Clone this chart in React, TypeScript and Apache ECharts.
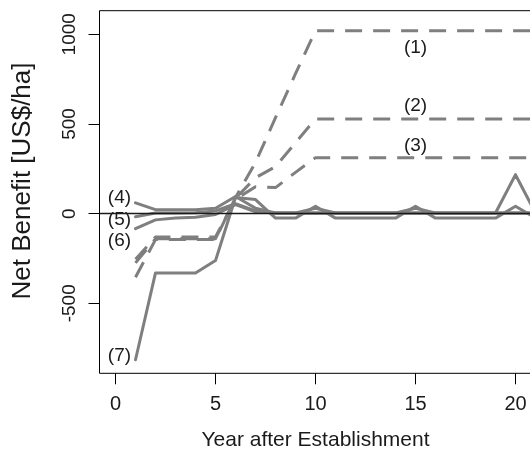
import React, { useEffect, useRef } from "react";
import * as echarts from "echarts";

// Year after establishment
const years = [1, 2, 3, 4, 5, 6, 7, 8, 9, 10, 11, 12, 13, 14, 15, 16, 17, 18, 19, 20, 21];

// Net benefit [US$/ha] — dashed scenarios
const s1 = [-355, -145, -145, -145, -145, 90, 285, 535, 780, 1020, 1020, 1020, 1020, 1020, 1020, 1020, 1020, 1020, 1020, 1020, 1020];
const s2 = [-275, -140, -140, -140, -140, 85, 200, 262, 395, 528, 528, 528, 528, 528, 528, 528, 528, 528, 528, 528, 528];
const s3 = [-255, -130, -130, -130, -130, 80, 150, 145, 230, 312, 312, 312, 312, 312, 312, 312, 312, 312, 312, 312, 312];
// solid scenarios
const s4 = [60, 22, 22, 22, 30, 95, 30, 3, 3, 30, 3, 3, 3, 3, 30, 3, 3, 3, 3, 217, 3];
const s5 = [-18, 3, 3, 5, 15, 55, 15, 3, 3, 3, 3, 3, 3, 3, 3, 3, 3, 3, 3, 3, 3];
const s6 = [-84, -35, -25, -20, -5, 50, 10, 3, 3, 3, 3, 3, 3, 3, 3, 3, 3, 3, 3, 3, 3];
const s7 = [-815, -331, -331, -331, -262, 90, 78, -25, -25, 41, -25, -25, -25, -25, 41, -25, -25, -25, -25, 41, -25];

const xTicks = [0, 5, 10, 15, 20];
const yTicks = [-500, 0, 500, 1000];

// curve labels: text, x (year), y (US$/ha), alignment
const labelTexts = ["(1)", "(2)", "(3)", "(4)", "(5)", "(6)", "(7)"];
const labelX = [15, 15, 15, 0.78, 0.78, 0.78, 0.78];
const labelY = [929, 606, 383, 94, -26, -147, -788];
const labelAlign = ["center", "center", "center", "right", "right", "right", "right"];

const GRAY = "#7f7f7f";
const TEXT = "#1a1a1a";
const FONT = "'Liberation Sans', Arial, Helvetica, sans-serif";

export default function App() {
  const ref = useRef<HTMLDivElement>(null);
  useEffect(() => {
    document.body.style.margin = "0";
    document.body.style.overflow = "hidden";
    const chart = echarts.init(ref.current!, null, { renderer: "svg" });
    const mk = (arr: number[]) => years.map((y, i) => [y, arr[i]]);
    const dashed = { color: GRAY, width: 3, type: [17, 11] as any, cap: "butt" as const, join: "round" as const };
    const solid = { color: GRAY, width: 3, type: "solid" as const, cap: "round" as const, join: "round" as const };
    const lineSeries = (name: string, arr: number[], style: any, extra: any = {}) => ({
      name,
      type: "line",
      data: mk(arr),
      showSymbol: false,
      symbol: "none",
      lineStyle: style,
      silent: true,
      ...extra,
    });
    chart.setOption({
      animation: false,
      textStyle: { fontFamily: FONT },
      grid: {
        left: 99.5,
        top: 10.7,
        width: 432,
        height: 362.6,
        containLabel: false,
        outerBoundsMode: "none",
        show: true,
        borderColor: "#000",
        borderWidth: 1,
        backgroundColor: "transparent",
      },
      xAxis: {
        type: "value",
        min: -0.8,
        max: 20.8,
        name: "Year after Establishment",
        nameLocation: "middle",
        nameGap: 55,
        nameTextStyle: { fontSize: 21, color: TEXT, fontFamily: FONT },
        axisLine: { show: false, onZero: false },
        splitLine: { show: false },
        axisTick: { show: true, length: 11, customValues: xTicks, lineStyle: { color: "#000", width: 1 } },
        axisLabel: {
          show: true,
          customValues: xTicks,
          fontSize: 20,
          color: TEXT,
          margin: 20,
          fontFamily: FONT,
          formatter: (v: number) => String(v),
        },
      },
      yAxis: {
        type: "value",
        min: -890.5,
        max: 1131.4,
        axisLine: { show: false, onZero: false },
        splitLine: { show: false },
        axisTick: { show: true, length: 11, customValues: yTicks, lineStyle: { color: "#000", width: 1 } },
        axisLabel: {
          show: true,
          customValues: yTicks,
          rotate: 90,
          fontSize: 19,
          color: TEXT,
          margin: 22,
          fontFamily: FONT,
          formatter: (v: number) => String(v),
        },
      },
      series: [
        lineSeries("(1)", s1, dashed),
        lineSeries("(2)", s2, dashed),
        lineSeries("(3)", s3, dashed),
        lineSeries("(4)", s4, solid),
        lineSeries("(5)", s5, solid),
        lineSeries("(6)", s6, solid),
        lineSeries("(7)", s7, solid, {
          markLine: {
            silent: true,
            symbol: "none",
            label: { show: false },
            lineStyle: { color: "#1a1a1a", width: 1.4, type: "solid" },
            data: [{ yAxis: 0 }],
          },
        }),
      ],
    });

    // curve labels placed through the chart's own scales
    const labelEls = labelTexts.map((t, i) => {
      const p = chart.convertToPixel({ gridIndex: 0 }, [labelX[i], labelY[i]]) as number[];
      return {
        type: "text",
        x: p[0],
        y: p[1],
        silent: true,
        style: {
          text: t,
          fill: TEXT,
          fontSize: 19,
          fontFamily: FONT,
          align: labelAlign[i],
          verticalAlign: "middle",
        },
      };
    });
    chart.setOption({
      graphic: [
        ...labelEls,
        {
          type: "text",
          x: 21,
          y: 181,
          rotation: Math.PI / 2,
          silent: true,
          style: {
            text: "Net Benefit [US$/ha]",
            fill: TEXT,
            fontSize: 26,
            fontFamily: FONT,
            align: "center",
            verticalAlign: "middle",
          },
        },
      ],
    });
    return () => chart.dispose();
  }, []);
  return <div ref={ref} style={{ position: "fixed", left: 0, top: 0, width: 530, height: 451 }} />;
}
